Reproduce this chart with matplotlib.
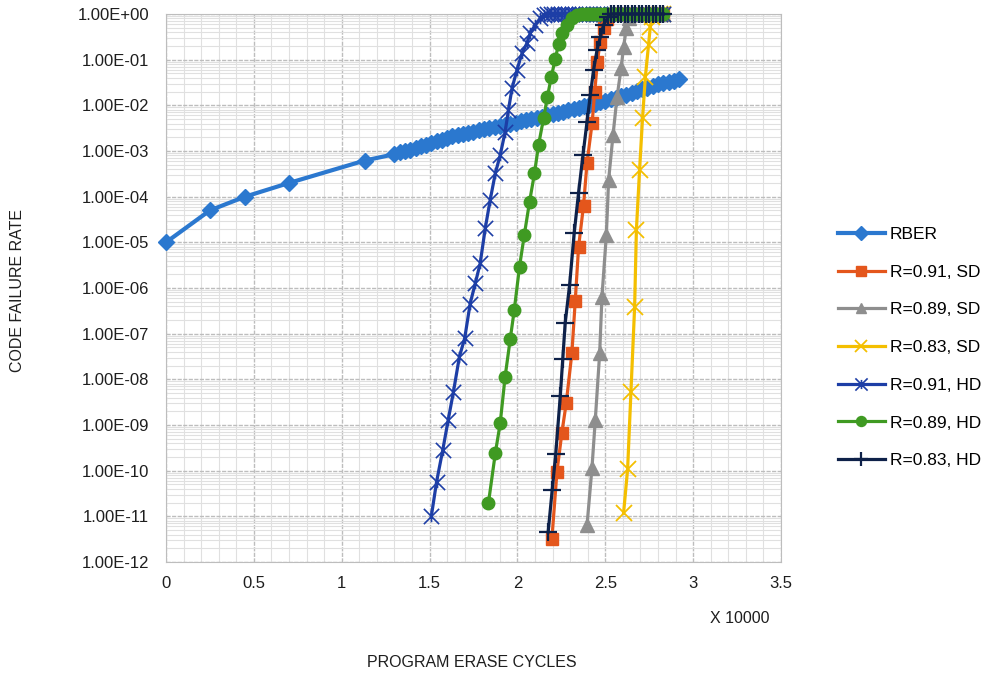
import numpy as np
import matplotlib
matplotlib.use("Agg")
import matplotlib.pyplot as plt
from matplotlib.path import Path
from matplotlib.ticker import FuncFormatter, FixedLocator, LogLocator, MultipleLocator

plt.rcParams["font.family"] = ["Liberation Sans", "DejaVu Sans"]

# ---- data (x in units of 10000 P/E cycles, y as log10 of the rate) ----
rber_x = [0.0, 0.25, 0.45, 0.70, 1.13, 1.30,
          1.33, 1.36, 1.39, 1.42, 1.45, 1.48, 1.51, 1.54, 1.57, 1.60,
          1.63, 1.66, 1.69, 1.72, 1.75, 1.78, 1.81, 1.84, 1.87, 1.90,
          1.93, 1.96, 1.99, 2.02, 2.05, 2.08, 2.11, 2.14, 2.17, 2.20,
          2.23, 2.26, 2.29, 2.32, 2.35, 2.38, 2.41, 2.44, 2.47, 2.50,
          2.53, 2.56, 2.59, 2.62, 2.65, 2.68, 2.71, 2.74, 2.77, 2.80,
          2.83, 2.86, 2.89, 2.92]
rber_log = [-5.00, -4.30, -4.00, -3.70, -3.21, -3.07,
            -3.03, -3.00, -2.97, -2.93, -2.90, -2.86, -2.83, -2.79, -2.75, -2.71,
            -2.68, -2.65, -2.63, -2.60, -2.58, -2.55, -2.52, -2.50, -2.47, -2.45,
            -2.42, -2.40, -2.38, -2.35, -2.33, -2.30, -2.27, -2.25, -2.22, -2.20,
            -2.17, -2.14, -2.11, -2.08, -2.05, -2.02, -1.99, -1.96, -1.93, -1.90,
            -1.87, -1.84, -1.80, -1.77, -1.73, -1.69, -1.65, -1.61, -1.57, -1.54,
            -1.51, -1.48, -1.46, -1.43]

# saturated region (failure rate = 1) shared by all code curves
plateau_x = [2.17, 2.19, 2.21, 2.23, 2.25, 2.27, 2.29, 2.31, 2.33, 2.35, 2.37,
             2.39, 2.41, 2.43, 2.45, 2.47, 2.49, 2.51, 2.53, 2.55, 2.57, 2.59,
             2.61, 2.63, 2.65, 2.67, 2.69, 2.71, 2.73, 2.75, 2.77, 2.79, 2.81, 2.83]

sd91_x = [2.196, 2.225, 2.253, 2.278, 2.31, 2.329, 2.348, 2.376, 2.396, 2.425,
          2.44, 2.455, 2.47, 2.49, 2.51]
sd91_log = [-11.5, -10.02, -9.17, -8.51, -7.42, -6.28, -5.10, -4.20, -3.26, -2.39,
            -1.70, -1.05, -0.62, -0.30, -0.10]

sd89_x = [2.396, 2.424, 2.443, 2.468, 2.481, 2.506, 2.519, 2.544, 2.567, 2.59,
          2.604, 2.62, 2.633]
sd89_log = [-11.2, -9.95, -8.89, -7.43, -6.19, -4.84, -3.63, -2.65, -1.81, -1.19,
            -0.72, -0.31, -0.09]

sd83_x = [2.604, 2.627, 2.646, 2.667, 2.677, 2.695, 2.712, 2.728, 2.746, 2.756, 2.766]
sd83_log = [-10.93, -9.97, -8.27, -6.41, -4.73, -3.42, -2.28, -1.38, -0.68, -0.28, -0.06]

hd91_x = [1.51, 1.54, 1.575, 1.606, 1.636, 1.67, 1.70, 1.731, 1.76, 1.788,
          1.817, 1.845, 1.874, 1.902, 1.93, 1.949, 1.969, 1.997, 2.026, 2.054,
          2.073, 2.101, 2.13, 2.15]
hd91_log = [-11.0, -10.24, -9.55, -8.89, -8.27, -7.50, -7.10, -6.34, -5.90, -5.46,
            -4.69, -4.07, -3.49, -3.09, -2.58, -2.10, -1.63, -1.23, -0.86, -0.64,
            -0.42, -0.24, -0.09, -0.02]

hd89_x = [1.835, 1.874, 1.902, 1.93, 1.959, 1.982, 2.012, 2.039, 2.069, 2.097,
          2.12, 2.149, 2.171, 2.193, 2.215, 2.234, 2.253, 2.282, 2.31, 2.339]
hd89_log = [-10.71, -9.62, -8.96, -7.94, -7.12, -6.48, -5.53, -4.84, -4.11, -3.49,
            -2.87, -2.28, -1.81, -1.37, -0.99, -0.66, -0.42, -0.24, -0.09, -0.02]

hd83_x = [2.175, 2.198, 2.218, 2.244, 2.258, 2.272, 2.297, 2.323, 2.348, 2.373,
          2.396, 2.415, 2.433, 2.453, 2.472, 2.49, 2.517]
hd83_log = [-11.34, -10.42, -9.63, -8.36, -7.55, -6.76, -5.93, -4.80, -3.91, -3.09,
            -2.36, -1.77, -1.23, -0.79, -0.50, -0.24, -0.06]

labels = ["RBER", "R=0.91, SD", "R=0.89, SD", "R=0.83, SD",
          "R=0.91, HD", "R=0.89, HD", "R=0.83, HD"]
colors = ["#2b78cf", "#e4561c", "#8e8e8e", "#f4bf00",
          "#1d3ea6", "#3f9a22", "#0e2149"]
x_ticks = [0, 0.5, 1, 1.5, 2, 2.5, 3, 3.5]

# Excel-style "star" marker: an X with a short vertical bar
star = Path([(-1, -1), (1, 1), (-1, 1), (1, -1), (0, -0.75), (0, 0.75)],
            [Path.MOVETO, Path.LINETO, Path.MOVETO, Path.LINETO, Path.MOVETO, Path.LINETO])


def with_plateau(xs, logs):
    xs = list(xs) + [p for p in plateau_x if p > xs[-1] + 0.012]
    logs = list(logs) + [0.0] * (len(xs) - len(logs))
    return np.array(xs), 10.0 ** np.array(logs)


fig = plt.figure(figsize=(9.88, 6.73), dpi=100)
ax = fig.add_axes([0.168, 0.1649, 0.6225, 0.8143])

ax.plot(rber_x, 10.0 ** np.array(rber_log), color=colors[0], lw=3.0,
        marker="D", ms=8.5, label=labels[0], clip_on=False, zorder=3)

code_series = [
    (sd91_x, sd91_log, "s", 8.5, 1.0),
    (sd89_x, sd89_log, "^", 9.5, 1.0),
    (sd83_x, sd83_log, "x", 11, 1.3),
    (hd91_x, hd91_log, star, 11, 1.2),
    (hd89_x, hd89_log, "o", 9, 1.0),
    (hd83_x, hd83_log, "+", 13, 1.6),
]
for i, (xs, logs, mk, ms, mew) in enumerate(code_series, start=1):
    px, py = with_plateau(xs, logs)
    ax.plot(px, py, color=colors[i], lw=2.3, marker=mk, ms=ms, mew=mew,
            label=labels[i], clip_on=False, zorder=3 + i)

ax.set_yscale("log")
ax.set_xlim(0, 3.5)
ax.set_ylim(1e-12, 1e0)

ax.xaxis.set_major_locator(FixedLocator(x_ticks))
ax.xaxis.set_minor_locator(MultipleLocator(0.1))
ax.xaxis.set_major_formatter(FuncFormatter(lambda v, p: f"{v:g}"))
ax.yaxis.set_major_locator(LogLocator(base=10, numticks=20))
ax.yaxis.set_minor_locator(LogLocator(base=10, subs=np.arange(2, 10), numticks=20))
ax.yaxis.set_major_formatter(FuncFormatter(lambda v, p: f"{v:.2E}"))
ax.yaxis.set_minor_formatter(FuncFormatter(lambda v, p: ""))

ax.grid(True, which="major", color="#bdbdbd", lw=1.0, ls=(0, (3, 1)))
ax.grid(True, which="minor", color="#e0e0e0", lw=0.8)
ax.set_axisbelow(True)
for s in ax.spines.values():
    s.set_color("#bdbdbd")
ax.tick_params(which="both", length=0)
ax.tick_params(axis="y", pad=12)
ax.tick_params(axis="x", pad=10)
for t in ax.get_xticklabels() + ax.get_yticklabels():
    t.set_fontsize(12)
    t.set_color("#1e1e1e")

fig.text(0.749, 0.0817, "X 10000", fontsize=11.5,
         ha="center", va="center", color="#1e1e1e")
fig.text(0.478, 0.0149, "PROGRAM ERASE CYCLES", fontsize=11.5,
         ha="center", va="center", color="#1e1e1e")
fig.text(0.018, 0.569, "CODE FAILURE RATE", fontsize=11.5,
         rotation=90, ha="center", va="center", color="#1e1e1e")

fig.legend(loc="upper left", bbox_to_anchor=(0.848, 0.663), frameon=False,
           fontsize=12.5, handlelength=2.7, handletextpad=0.3,
           labelspacing=1.3, borderpad=0, borderaxespad=0, markerscale=0.8)

fig.savefig("out.png", dpi=100)
